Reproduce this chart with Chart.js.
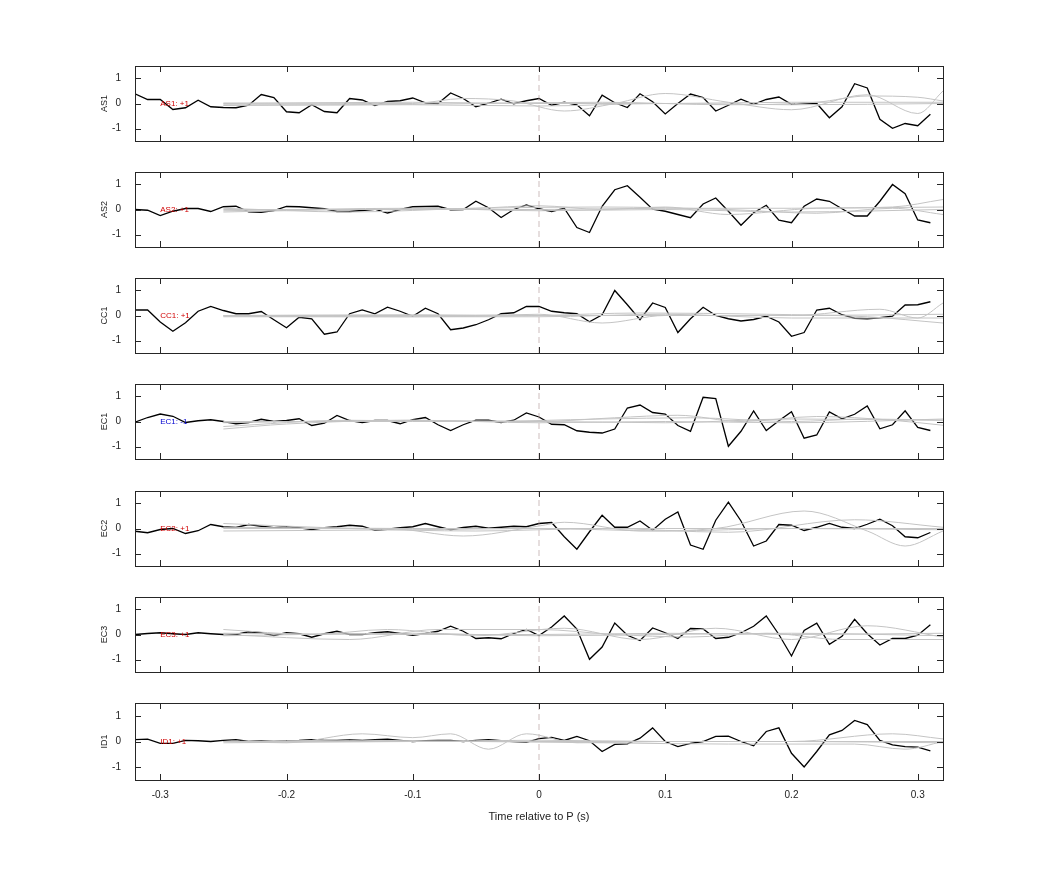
<!DOCTYPE html>
<html>
<head>
<meta charset="utf-8">
<script src="https://cdn.jsdelivr.net/npm/chart.js@4"></script>
<style>
body { margin: 0; background: #fff; }
#wrap { position: relative; width: 1042px; height: 875px; }
canvas { position: absolute; left: 0; }
</style>
</head>
<body>
<div id="wrap"></div>
<script>
const times = [-0.32,-0.31,-0.30,-0.29,-0.28,-0.27,-0.26,-0.25,-0.24,-0.23,-0.22,-0.21,-0.20,-0.19,-0.18,-0.17,
  -0.16,-0.15,-0.14,-0.13,-0.12,-0.11,-0.10,-0.09,-0.08,-0.07,-0.06,-0.05,-0.04,-0.03,-0.02,-0.01,
  0.00,0.01,0.02,0.03,0.04,0.05,0.06,0.07,0.08,0.09,0.10,0.11,0.12,0.13,0.14,0.15,
  0.16,0.17,0.18,0.19,0.20,0.21,0.22,0.23,0.24,0.25,0.26,0.27,0.28,0.29,0.30,0.31];

const stations = ['AS1', 'AS2', 'CC1', 'EC1', 'EC2', 'EC3', 'ID1'];
const polarity = ['AS1: +1', 'AS2: +1', 'CC1: +1', 'EC1: -1', 'EC2: +1', 'EC3: +1', 'ID1: +1'];
const polarityColor = ['#d00000', '#d00000', '#d00000', '#0000d0', '#d00000', '#d00000', '#d00000'];
const xTicks = [-0.3, -0.2, -0.1, 0, 0.1, 0.2, 0.3];
const yTicks = [-1, 0, 1];

const traceAS1 = [0.39,0.16,0.16,-0.24,-0.17,0.13,-0.13,-0.16,-0.17,-0.07,0.36,0.24,-0.33,-0.37,-0.05,-0.32,-0.37,0.2,0.14,-0.08,
  0.08,0.11,0.22,0.03,0,0.42,0.2,-0.13,0.01,0.17,-0.01,0.11,0.2,-0.07,0.05,-0.05,-0.49,0.33,0.03,-0.16,
  0.39,0.07,-0.42,0,0.38,0.24,-0.3,-0.07,0.17,-0.03,0.16,0.26,-0.03,0.01,0,-0.57,-0.13,0.79,0.62,-0.63,
  -0.99,-0.8,-0.89,-0.43];
const traceAS2 = [0,-0.03,-0.24,-0.07,0.04,0.04,-0.08,0.11,0.13,-0.09,-0.11,-0.04,0.12,0.11,0.07,0.03,-0.08,-0.08,-0.04,0.01,
  -0.14,0,0.11,0.12,0.13,-0.01,0,0.33,0.07,-0.32,0,0.18,0.03,-0.08,0.05,-0.72,-0.92,0.13,0.79,0.95,
  0.49,0.01,-0.07,-0.2,-0.33,0.22,0.46,-0.07,-0.63,-0.13,0.17,-0.43,-0.53,0.13,0.42,0.33,0.03,-0.26,-0.26,0.33,
  1.0,0.63,-0.42,-0.53];
const traceCC1 = [0.22,0.22,-0.26,-0.63,-0.29,0.17,0.36,0.2,0.07,0.07,0.16,-0.17,-0.49,-0.07,-0.13,-0.75,-0.66,0.07,0.22,0.07,
  0.33,0.17,-0.03,0.29,0.07,-0.57,-0.5,-0.37,-0.17,0.07,0.11,0.36,0.36,0.17,0.11,0.07,-0.25,0.03,1.0,0.43,
  -0.17,0.5,0.32,-0.68,-0.13,0.33,0,-0.13,-0.22,-0.16,-0.03,-0.26,-0.83,-0.68,0.22,0.29,0.03,-0.11,-0.13,-0.09,
  -0.03,0.42,0.43,0.55];
const traceEC1 = [-0.03,0.16,0.3,0.21,-0.04,0.03,0.07,0,-0.09,-0.04,0.09,0,0.04,0.11,-0.16,-0.07,0.24,0.04,-0.04,0.04,
  0.04,-0.09,0.07,0.16,-0.13,-0.36,-0.13,0.05,0.05,-0.04,0.05,0.34,0.18,-0.11,-0.13,-0.37,-0.43,-0.46,-0.3,0.54,
  0.66,0.36,0.3,-0.16,-0.39,0.97,0.92,-0.99,-0.39,0.42,-0.36,0.03,0.39,-0.67,-0.54,0.38,0.11,0.29,0.62,-0.29,
  -0.13,0.43,-0.24,-0.36];
const traceEC2 = [-0.11,-0.17,-0.04,0,-0.2,-0.09,0.16,0.07,0.04,0.16,0.09,0.03,0.07,0.03,-0.04,0.03,0.07,0.13,0.09,-0.07,
  -0.03,0.03,0.07,0.2,0.07,-0.05,0.04,0.09,0.01,0.05,0.09,0.07,0.2,0.24,-0.33,-0.83,-0.13,0.53,0.05,0.05,
  0.3,-0.07,0.37,0.66,-0.66,-0.83,0.33,1.05,0.3,-0.7,-0.5,0.16,0.13,-0.08,0.05,0.2,0.05,0,0.17,0.37,
  0.11,-0.33,-0.37,-0.16];
const traceEC3 = [0,0.04,0.07,0.03,0,0.07,0.03,0,0,0.11,0.07,-0.04,0.07,0.03,-0.11,0.03,0.13,0,0,0.07,
  0.11,0.04,-0.03,0.04,0.13,0.33,0.13,-0.16,-0.13,-0.17,0.04,0.2,-0.04,0.3,0.74,0.22,-0.99,-0.5,0.46,-0.03,
  -0.24,0.26,0.07,-0.16,0.24,0.22,-0.16,-0.11,0.07,0.33,0.74,0,-0.86,0.16,0.45,-0.39,-0.07,0.61,0.03,-0.42,
  -0.16,-0.16,-0.03,0.39];
const traceID1 = [0.07,0.09,-0.07,-0.07,0.04,0.03,0,0.04,0.07,0,0.03,0,0.03,0.04,0.07,0.04,0.04,0.07,0.04,0.07,
  0.09,0.04,0,0.03,0.04,0.04,0,0.04,0.07,0.03,0,-0.03,0.11,0.16,0.04,0.2,0.03,-0.39,-0.11,-0.09,
  0.13,0.53,0,-0.2,-0.07,0,0.2,0.21,0,-0.17,0.39,0.53,-0.46,-0.99,-0.39,0.26,0.43,0.82,0.66,0.04,
  -0.13,-0.2,-0.22,-0.37];
const traces = [traceAS1, traceAS2, traceCC1, traceEC1, traceEC2, traceEC3, traceID1];

// gray traces, read as [time, value] knots
const grayAS1 = [
  [[-0.25,0.02],[-0.1,0.0],[-0.06,0.2],[-0.02,0.1],[0.02,-0.3],[0.06,0.0],[0.1,0.4],[0.15,0.05],[0.2,-0.25],[0.26,0.35],[0.3,-0.4],[0.32,0.5]],
  [[-0.25,-0.05],[-0.15,-0.05],[-0.05,0.0],[0.05,0.05],[0.15,-0.05],[0.22,0.05],[0.26,0.3],[0.3,0.25],[0.32,0.1]],
  [[-0.25,0.0],[-0.1,0.05],[0.0,0.0],[0.1,0.0],[0.2,0.05],[0.32,0.05]],
  [[-0.25,-0.08],[-0.1,-0.05],[0.0,-0.1],[0.1,0.0],[0.2,-0.05],[0.32,0.0]]];
const grayAS2 = [
  [[-0.25,-0.1],[-0.15,0.0],[-0.05,0.05],[0.0,0.15],[0.05,0.0],[0.1,0.1],[0.15,-0.2],[0.22,0.05],[0.28,0.1],[0.32,0.4]],
  [[-0.25,0.05],[-0.15,-0.1],[-0.05,0.05],[0.05,0.1],[0.15,0.0],[0.22,-0.15],[0.28,0.05],[0.32,-0.2]],
  [[-0.25,0.0],[-0.1,0.0],[0.0,0.0],[0.1,0.05],[0.2,0.05],[0.32,0.1]],
  [[-0.25,-0.05],[-0.1,0.05],[0.0,-0.05],[0.1,0.0],[0.2,-0.1],[0.32,0.0]]];
const grayCC1 = [
  [[-0.25,0.0],[-0.05,0.0],[0.0,0.05],[0.05,-0.3],[0.1,0.0],[0.2,0.0],[0.27,0.25],[0.3,-0.1],[0.32,0.5]],
  [[-0.25,-0.05],[-0.1,-0.05],[0.0,0.0],[0.08,0.1],[0.18,0.05],[0.26,-0.05],[0.32,-0.3]],
  [[-0.25,0.0],[-0.1,0.03],[0.0,0.0],[0.1,0.0],[0.2,0.0],[0.32,0.05]],
  [[-0.25,-0.03],[-0.1,-0.05],[0.0,-0.05],[0.1,0.05],[0.2,-0.1],[0.32,-0.1]]];
const grayEC1 = [
  [[-0.25,-0.3],[-0.2,-0.1],[-0.1,0.05],[0.0,0.0],[0.06,0.15],[0.11,0.25],[0.16,0.0],[0.22,0.2],[0.28,0.05],[0.32,-0.15]],
  [[-0.25,-0.2],[-0.15,0.05],[-0.05,0.0],[0.05,0.1],[0.12,0.15],[0.2,0.0],[0.26,0.1],[0.32,0.05]],
  [[-0.25,0.0],[-0.1,0.0],[0.0,0.0],[0.1,-0.05],[0.2,0.1],[0.32,0.05]],
  [[-0.25,-0.05],[-0.1,0.05],[0.0,-0.05],[0.1,0.0],[0.2,-0.05],[0.32,0.1]]];
const grayEC2 = [
  [[-0.25,0.0],[-0.12,0.0],[-0.06,-0.3],[0.0,0.1],[0.02,0.25],[0.08,-0.1],[0.14,0.0],[0.21,0.7],[0.26,-0.1],[0.29,-0.7],[0.32,-0.1]],
  [[-0.25,0.2],[-0.15,0.0],[-0.05,-0.1],[0.05,0.0],[0.15,-0.15],[0.25,0.35],[0.32,0.05]],
  [[-0.25,0.05],[-0.1,0.0],[0.0,0.0],[0.1,0.0],[0.2,0.0],[0.32,0.0]],
  [[-0.25,-0.1],[-0.1,-0.05],[0.0,0.0],[0.1,-0.1],[0.2,0.0],[0.32,-0.05]]];
const grayEC3 = [
  [[-0.25,0.2],[-0.18,0.0],[-0.12,0.2],[-0.05,-0.05],[0.02,0.25],[0.08,-0.2],[0.14,0.25],[0.2,-0.2],[0.26,0.35],[0.32,-0.1]],
  [[-0.25,0.0],[-0.15,-0.2],[-0.08,0.2],[0.0,0.2],[0.06,0.0],[0.12,-0.1],[0.18,0.05],[0.24,-0.2],[0.32,-0.2]],
  [[-0.25,0.05],[-0.1,0.0],[0.0,0.0],[0.1,0.05],[0.2,0.0],[0.32,0.05]],
  [[-0.25,-0.05],[-0.1,0.05],[0.0,-0.05],[0.1,0.0],[0.2,0.05],[0.32,-0.05]]];
const grayID1 = [
  [[-0.25,0.0],[-0.2,-0.05],[-0.14,0.3],[-0.1,0.15],[-0.07,0.3],[-0.04,-0.3],[-0.01,0.3],[0.03,-0.05],[0.1,0.0],[0.2,0.0],[0.28,0.3],[0.32,0.1]],
  [[-0.25,0.0],[-0.15,0.05],[-0.05,0.0],[0.05,-0.05],[0.15,-0.1],[0.25,-0.1],[0.29,-0.3],[0.32,0.0]],
  [[-0.25,0.0],[-0.1,0.0],[0.0,0.0],[0.1,0.0],[0.2,0.0],[0.32,0.0]],
  [[-0.25,-0.05],[-0.1,0.0],[0.0,0.05],[0.1,0.0],[0.2,0.0],[0.32,-0.05]]];
const grays = [grayAS1, grayAS2, grayCC1, grayEC1, grayEC2, grayEC3, grayID1];

const panelTops = [66, 172, 278, 384, 491, 597, 703];
const panelH = 75;
const padTop = 10;

Chart.defaults.font.family = 'Helvetica, "Liberation Sans", Arial, sans-serif';
Chart.defaults.color = '#222';

// inward tick marks, box frame, and polarity label
const framePlugin = {
  id: 'frame',
  afterDatasetsDraw(chart, args, opts) {
    const ctx = chart.ctx;
    const a = chart.chartArea;
    const xs = chart.scales.x, ys = chart.scales.y;
    ctx.save();
    ctx.strokeStyle = '#262626';
    ctx.lineWidth = 1;
    ctx.beginPath();
    xTicks.forEach(t => {
      const px = Math.round(xs.getPixelForValue(t)) + 0.5;
      ctx.moveTo(px, a.top); ctx.lineTo(px, a.top + 6);
      ctx.moveTo(px, a.bottom); ctx.lineTo(px, a.bottom - 6);
    });
    yTicks.forEach(v => {
      const py = Math.round(ys.getPixelForValue(v)) + 0.5;
      ctx.moveTo(a.left, py); ctx.lineTo(a.left + 6, py);
      ctx.moveTo(a.right, py); ctx.lineTo(a.right - 6, py);
    });
    ctx.stroke();
    ctx.strokeRect(Math.round(a.left) + 0.5, Math.round(a.top) + 0.5, Math.round(a.right - a.left), Math.round(a.bottom - a.top));
    ctx.fillStyle = opts.color;
    ctx.font = '8px Helvetica, "Liberation Sans", Arial, sans-serif';
    ctx.textBaseline = 'middle';
    ctx.fillText(opts.text, xs.getPixelForValue(-0.3), ys.getPixelForValue(0));
    ctx.restore();
  }
};

stations.forEach((name, i) => {
  const last = i === stations.length - 1;
  const cv = document.createElement('canvas');
  const xh = last ? 48 : 10;
  const h = panelH + 14 + xh;
  cv.style.top = (panelTops[i] - 12) + 'px';
  cv.style.width = '1042px';
  cv.style.height = h + 'px';
  cv.width = 1042; cv.height = h;
  document.getElementById('wrap').appendChild(cv);

  const datasets = grays[i].map(g => ({
    data: g.map(p => ({x: p[0], y: p[1]})),
    borderColor: '#c4c4c4', borderWidth: 1, tension: 0.4, cubicInterpolationMode: 'monotone'
  }));
  datasets.push({
    data: [{x: 0, y: -1.5}, {x: 0, y: 1.5}],
    borderColor: 'rgba(175,150,150,0.9)', borderWidth: 0.7, borderDash: [6, 4]
  });
  datasets.push({
    data: traces[i].map((v, k) => ({x: times[k], y: v})),
    borderColor: '#000', borderWidth: 1.3
  });

  new Chart(cv.getContext('2d'), {
    type: 'line',
    data: { datasets: datasets },
    options: {
      responsive: false,
      animation: false,
      elements: { point: { radius: 0 } },
      layout: { padding: { top: padTop, right: 1042 - 943, left: 95, bottom: 0 } },
      plugins: {
        legend: { display: false },
        tooltip: { enabled: false },
        frame: { text: polarity[i], color: polarityColor[i] }
      },
      scales: {
        x: {
          type: 'linear', min: -0.32, max: 0.32,
          grid: { display: false },
          border: { display: false },
          afterBuildTicks: s => { s.ticks = xTicks.map(v => ({value: v})); },
          afterFit: s => { s.height = xh; },
          ticks: {
            display: last, font: { size: 10 }, padding: 1,
            callback: v => (Math.abs(v) < 1e-9 ? '0' : String(Math.round(v * 10) / 10))
          },
          title: { display: last, text: 'Time relative to P (s)', font: { size: 11 }, padding: { top: 2 } }
        },
        y: {
          min: -1.5, max: 1.5,
          grid: { display: false },
          border: { display: false },
          afterBuildTicks: s => { s.ticks = yTicks.map(v => ({value: v})); },
          afterFit: s => { s.width = 40; },
          ticks: { font: { size: 10 }, padding: 6 },
          title: { display: true, text: name, font: { size: 9 }, padding: { bottom: 4 } }
        }
      }
    },
    plugins: [framePlugin]
  });
});
</script>
</body>
</html>
